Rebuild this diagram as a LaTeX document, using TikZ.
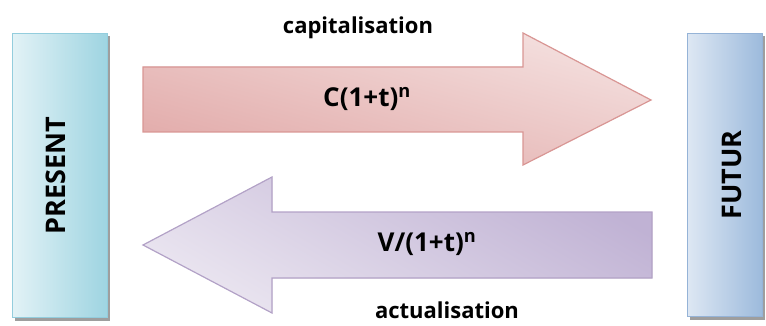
\documentclass[tikz,border=0pt]{standalone}
\usepackage{fontspec}
\setmainfont{Open Sans}
\usetikzlibrary{positioning}
\definecolor{presentlight}{HTML}{E2F2F6}
\definecolor{presentdark}{HTML}{9ED4E1}
\definecolor{presentline}{HTML}{93CDDD}
\definecolor{futurlight}{HTML}{DDE7F3}
\definecolor{futurdark}{HTML}{9CBADC}
\definecolor{futurline}{HTML}{95B3D7}
\definecolor{capilight}{HTML}{F4E0DF}
\definecolor{capidark}{HTML}{E2ABAA}
\definecolor{capiline}{HTML}{D99694}
\definecolor{actulight}{HTML}{EAE5F0}
\definecolor{actudark}{HTML}{C0B2D4}
\definecolor{actuline}{HTML}{B3A2C7}

\begin{document}
\begin{tikzpicture}[
      x=1pt, y=-1pt,
      period/.style={rectangle, minimum width=95pt, minimum height=284pt, inner sep=0pt, line width=1.2pt},
      periodtext/.style={rotate=90, font=\fontsize{27}{31}\selectfont\bfseries, inner sep=0pt},
      formula/.style={font=\fontsize{26}{30}\selectfont\bfseries, inner sep=0pt},
      caption/.style={font=\fontsize{22}{26}\selectfont\bfseries, inner sep=0pt},
      shade_grey/.style={fill=black!38},
      red_arrow/.style={draw=capiline, line width=1.2pt, top color=capilight, bottom color=capidark, shading angle=-15},
      purple_arrow/.style={draw=actuline, line width=1.2pt, top color=actudark, bottom color=actulight, shading angle=-30}
  ]
  \useasboundingbox (0,0) rectangle (766,326);

  % boxes
  \fill [shade_grey] (15,36) rectangle (110,321);
  \fill [shade_grey] (690,36) rectangle (765,320);
  \node [period, draw=presentline, left color=presentlight, right color=presentdark, anchor=north west] (present) at (12,33) {};
  \node [period, minimum width=75pt, minimum height=283pt, draw=futurline, left color=futurlight, right color=futurdark, anchor=north west] (futur) at (687,33) {};
  \node [periodtext] (presentlabel) at ([xshift=-4pt]present.center) {PRESENT};
  \node [periodtext] (futurlabel) at ([xshift=7pt]futur.center) {FUTUR};

  % capitalisation arrow
  \coordinate (capi) at (143,100);
  \fill [shade_grey, shift={(2,3)}] (capi) ++(0,-33) -- ++(380,0) -- ++(0,-34) -- ++(128,67) -- ++(-128,65) -- ++(0,-33) -- ++(-380,0) -- cycle;
  \path [red_arrow] (capi) ++(0,-33) -- ++(380,0) -- ++(0,-34) -- ++(128,67) -- ++(-128,65) -- ++(0,-33) -- ++(-380,0) -- cycle;
  \node [formula] (capiformula) at (367,99) {C(1+t)\textsuperscript{n}};
  \node [caption] (capilabel) at (358,28) {capitalisation};

  % actualisation arrow
  \coordinate (actu) at (143,245);
  \fill [shade_grey, shift={(2,3)}] (actu) -- ++(129,-68) -- ++(0,35) -- ++(380,0) -- ++(0,66) -- ++(-380,0) -- ++(0,35) -- cycle;
  \path [purple_arrow] (actu) -- ++(129,-68) -- ++(0,35) -- ++(380,0) -- ++(0,66) -- ++(-380,0) -- ++(0,35) -- cycle;
  \node [formula] (actuformula) at (427,244) {V/(1+t)\textsuperscript{n}};
  \node [caption] (actulabel) at (447,310) {actualisation};
\end{tikzpicture}
\end{document}
